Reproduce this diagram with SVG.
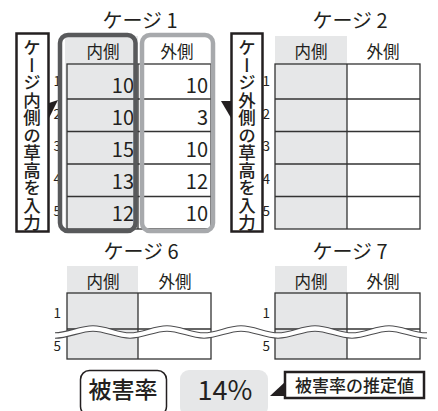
<svg xmlns="http://www.w3.org/2000/svg" width="438" height="411" viewBox="0 0 438 411">
<style>
text{font-family:"Noto Sans CJK JP","Noto Sans",sans-serif;fill:#231f20}
.title{font-size:20px;text-anchor:middle}
.hdr{font-size:16.5px;text-anchor:middle}
.num{font-size:13.5px;text-anchor:end}
.val{font-size:20px;text-anchor:end}
.grid{fill:none;stroke:#333;stroke-width:1.3}
.gray{fill:#e6e7e8}
.vt{font-size:17.5px;font-weight:500;writing-mode:vertical-rl;text-anchor:start}
.callout{fill:#fff;stroke:#231f20;stroke-width:2.5}
</style>
<rect width="438" height="411" fill="#fff"/>

<g id="cage1">
  <text class="title" x="140" y="28">ケージ 1</text>
  <rect class="gray" x="65" y="36" width="73" height="193"/>
  <text class="hdr" x="103" y="58">内側</text>
  <text class="hdr" x="177" y="58">外側</text>
  <g class="grid">
    <rect x="67" y="64" width="144" height="165"/>
    <line x1="138" y1="64" x2="138" y2="229"/>
    <line x1="67" y1="99" x2="211" y2="99"/>
    <line x1="67" y1="131.5" x2="211" y2="131.5"/>
    <line x1="67" y1="164" x2="211" y2="164"/>
    <line x1="67" y1="196.5" x2="211" y2="196.5"/>
  </g>
  <text class="num" x="61" y="86">1</text>
  <text class="num" x="61" y="119">2</text>
  <text class="num" x="61" y="151">3</text>
  <text class="num" x="61" y="184">4</text>
  <text class="num" x="61" y="216">5</text>
  <text class="val" x="134" y="93">10</text>
  <text class="val" x="134" y="125">10</text>
  <text class="val" x="134" y="157">15</text>
  <text class="val" x="134" y="189">13</text>
  <text class="val" x="134" y="221">12</text>
  <text class="val" x="208" y="93">10</text>
  <text class="val" x="208" y="125">3</text>
  <text class="val" x="208" y="157">10</text>
  <text class="val" x="208" y="189">12</text>
  <text class="val" x="208" y="221">10</text>
  <rect x="60" y="35" width="75.5" height="196" rx="8" fill="none" stroke="#58595b" stroke-width="4.5"/>
  <rect x="142" y="35" width="71" height="196" rx="8" fill="none" stroke="#a7a9ac" stroke-width="4.5"/>
</g>

<g id="cage2">
  <text class="title" x="350" y="28">ケージ 2</text>
  <rect class="gray" x="275" y="36" width="72" height="193"/>
  <text class="hdr" x="311" y="58">内側</text>
  <text class="hdr" x="383" y="58">外側</text>
  <g class="grid">
    <rect x="275" y="64" width="145" height="165"/>
    <line x1="347" y1="64" x2="347" y2="229"/>
    <line x1="275" y1="99" x2="420" y2="99"/>
    <line x1="275" y1="131.5" x2="420" y2="131.5"/>
    <line x1="275" y1="164" x2="420" y2="164"/>
    <line x1="275" y1="196.5" x2="420" y2="196.5"/>
  </g>
  <text class="num" x="270" y="86">1</text>
  <text class="num" x="270" y="119">2</text>
  <text class="num" x="270" y="151">3</text>
  <text class="num" x="270" y="184">4</text>
  <text class="num" x="270" y="216">5</text>
</g>

<g id="callout-inner">
  <polygon points="49,103 58,100 49,118" fill="#231f20"/>
  <rect class="callout" x="16.5" y="33.5" width="32" height="198"/>
  <text class="vt" x="32" y="39">ケージ内側の草高を入力</text>
</g>

<g id="callout-outer">
  <polygon points="221,101 231,101 231,118" fill="#231f20"/>
  <rect class="callout" x="231.5" y="33.5" width="31" height="198"/>
  <text class="vt" x="247" y="39">ケージ外側の草高を入力</text>
</g>

<g id="cage6">
  <text class="title" x="141" y="259">ケージ 6</text>
  <rect class="gray" x="67" y="266" width="71" height="93"/>
  <text class="hdr" x="103" y="288">内側</text>
  <text class="hdr" x="175" y="288">外側</text>
  <g class="grid">
    <rect x="67" y="293" width="144" height="66"/>
    <line x1="138" y1="293" x2="138" y2="359"/>
    <line x1="67" y1="329" x2="211" y2="329"/>
  </g>
  <text class="num" x="61" y="318">1</text>
  <text class="num" x="61" y="351">5</text>
</g>

<g id="cage7">
  <text class="title" x="350" y="259">ケージ 7</text>
  <rect class="gray" x="275" y="266" width="72" height="93"/>
  <text class="hdr" x="311" y="288">内側</text>
  <text class="hdr" x="383" y="288">外側</text>
  <g class="grid">
    <rect x="275" y="293" width="145" height="66"/>
    <line x1="347" y1="293" x2="347" y2="359"/>
    <line x1="275" y1="329" x2="420" y2="329"/>
  </g>
  <text class="num" x="270" y="318">1</text>
  <text class="num" x="270" y="351">5</text>
</g>

<g id="connectors">
  <path d="M55 335.5 C68.3 335.5 79.7 328.5 93 328.5 S116.7 335.5 130 335.5 S153.7 328.5 167 328.5 S190.7 335.5 204 335.5 S227.7 328.5 241 328.5 S264.7 335.5 278 335.5 S301.7 328.5 315 328.5 S338.7 335.5 352 335.5 S375.7 328.5 389 328.5 S412.7 335.5 426 335.5 L427 335.5" fill="none" stroke="#4d4d4f" stroke-width="6.5"/>
  <path d="M55 335.5 C68.3 335.5 79.7 328.5 93 328.5 S116.7 335.5 130 335.5 S153.7 328.5 167 328.5 S190.7 335.5 204 335.5 S227.7 328.5 241 328.5 S264.7 335.5 278 335.5 S301.7 328.5 315 328.5 S338.7 335.5 352 335.5 S375.7 328.5 389 328.5 S412.7 335.5 426 335.5 L427 335.5" fill="none" stroke="#fff" stroke-width="4.3"/>
</g>

<g id="rate-label">
  <rect x="80.5" y="370.5" width="86" height="45" rx="9" fill="#fff" stroke="#231f20" stroke-width="1.5"/>
  <text x="123" y="398" font-size="23" font-weight="500" text-anchor="middle">被害率</text>
</g>

<g id="rate-value">
  <rect x="180" y="370" width="88" height="46" rx="9" fill="#e6e7e8"/>
  <text x="225" y="400" font-size="27" text-anchor="middle">14%</text>
</g>

<g id="callout-rate">
  <polygon points="286,381 270,396 286,396" fill="#231f20"/>
  <rect class="callout" x="285" y="372" width="139" height="26"/>
  <text x="354.5" y="392" font-size="17" font-weight="500" text-anchor="middle">被害率の推定値</text>
</g>
</svg>
